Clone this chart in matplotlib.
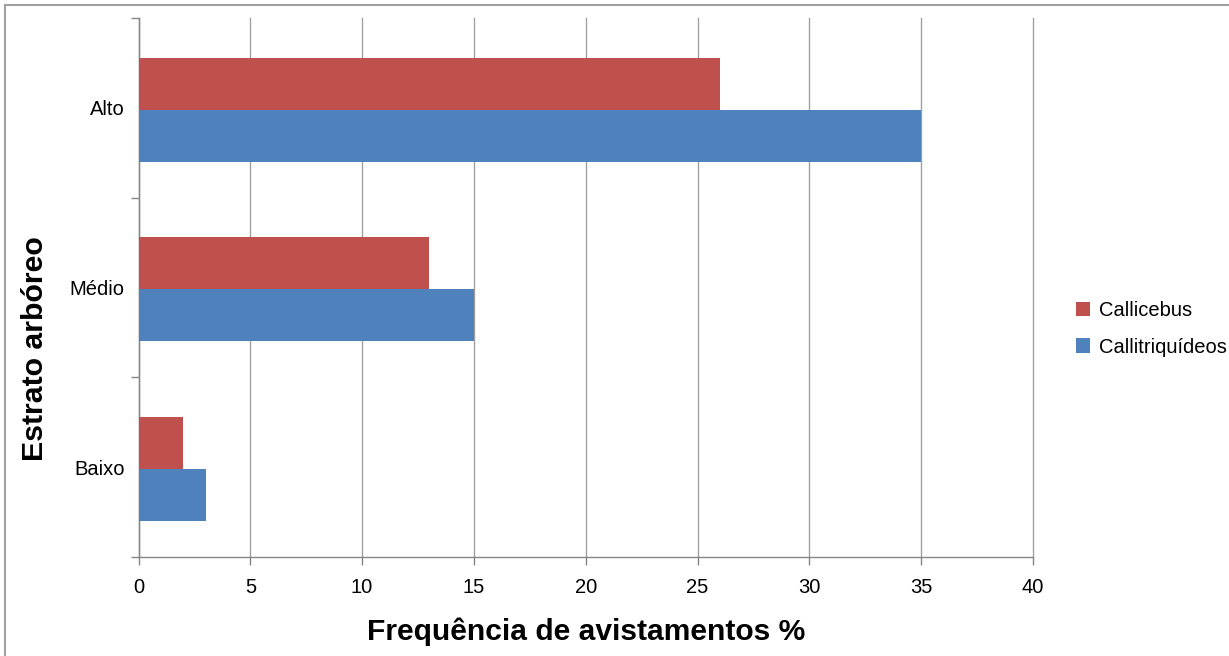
import matplotlib
matplotlib.use("Agg")
import matplotlib.pyplot as plt
import numpy as np
from matplotlib.patches import Patch
from matplotlib.lines import Line2D

categories = ["Baixo", "Médio", "Alto"]
callicebus = [2, 13, 26]
callitriquideos = [3, 15, 35]
series_names = ["Callicebus", "Callitriquídeos"]
colors = ["#C0504D", "#4F81BD"]
xticks = [0, 5, 10, 15, 20, 25, 30, 35, 40]

plt.rcParams['font.family'] = ['Liberation Sans', 'DejaVu Sans']

W, H = 1229, 656
fig = plt.figure(figsize=(W / 100, H / 100), dpi=100)
fig.patch.set_facecolor("white")

# outer chart border (top and left visible)
fig.add_artist(Line2D([5 / W, 5 / W], [0, 1 - 5 / H], transform=fig.transFigure, color="#A0A0A0", lw=1.5))
fig.add_artist(Line2D([5 / W, 1], [1 - 5 / H, 1 - 5 / H], transform=fig.transFigure, color="#A0A0A0", lw=1.5))

ax = fig.add_axes([138.5 / W, 1 - 557 / H, (1033 - 138.5) / W, (557 - 18) / H])

y = np.arange(len(categories))
h = 0.29
ax.barh(y + h / 2 - 0.01, callicebus, height=h, color=colors[0], label=series_names[0], zorder=3)
ax.barh(y - h / 2 - 0.01, callitriquideos, height=h, color=colors[1], label=series_names[1], zorder=3)

ax.set_xlim(0, 40)
ax.set_ylim(-0.5, len(categories) - 0.5)
ax.set_xticks(xticks)
ax.set_xticklabels([str(v) for v in xticks], fontsize=14.5)
ax.set_yticks(y)
ax.set_yticklabels(categories, fontsize=14.5)
ax.tick_params(axis="y", which="major", length=0, pad=10)
ax.set_yticks(np.arange(-0.5, len(categories), 1.0), minor=True)
ax.tick_params(axis="y", which="minor", length=6, color="#868686", width=1)
ax.tick_params(axis="x", which="major", length=6, color="#868686", width=1, pad=9)

ax.grid(axis="x", color="#A0A0A0", lw=1, zorder=0)
for gl in ax.get_xgridlines():
    gl.set_clip_on(False)
ax.set_axisbelow(True)
for s in ["top", "right"]:
    ax.spines[s].set_visible(False)
for s in ["left", "bottom"]:
    ax.spines[s].set_color("#868686")
    ax.spines[s].set_linewidth(1)

fig.text(586 / W, 1 - 632 / H, "Frequência de avistamentos %", fontsize=21.6, fontweight="bold",
         ha="center", va="center")
fig.text(35 / W, 1 - 349 / H, "Estrato arbóreo", fontsize=21.8, fontweight="bold",
         ha="center", va="center", rotation=90)

handles = [Patch(facecolor=colors[0], label=series_names[0]),
           Patch(facecolor=colors[1], label=series_names[1])]
fig.legend(handles=handles, loc="center left", bbox_to_anchor=(1058 / W, 1 - 329 / H),
           frameon=False, fontsize=14.5, handlelength=0.7, handleheight=0.7,
           handletextpad=0.45, labelspacing=0.85)

fig.savefig("out.png", dpi=100, facecolor="white")
